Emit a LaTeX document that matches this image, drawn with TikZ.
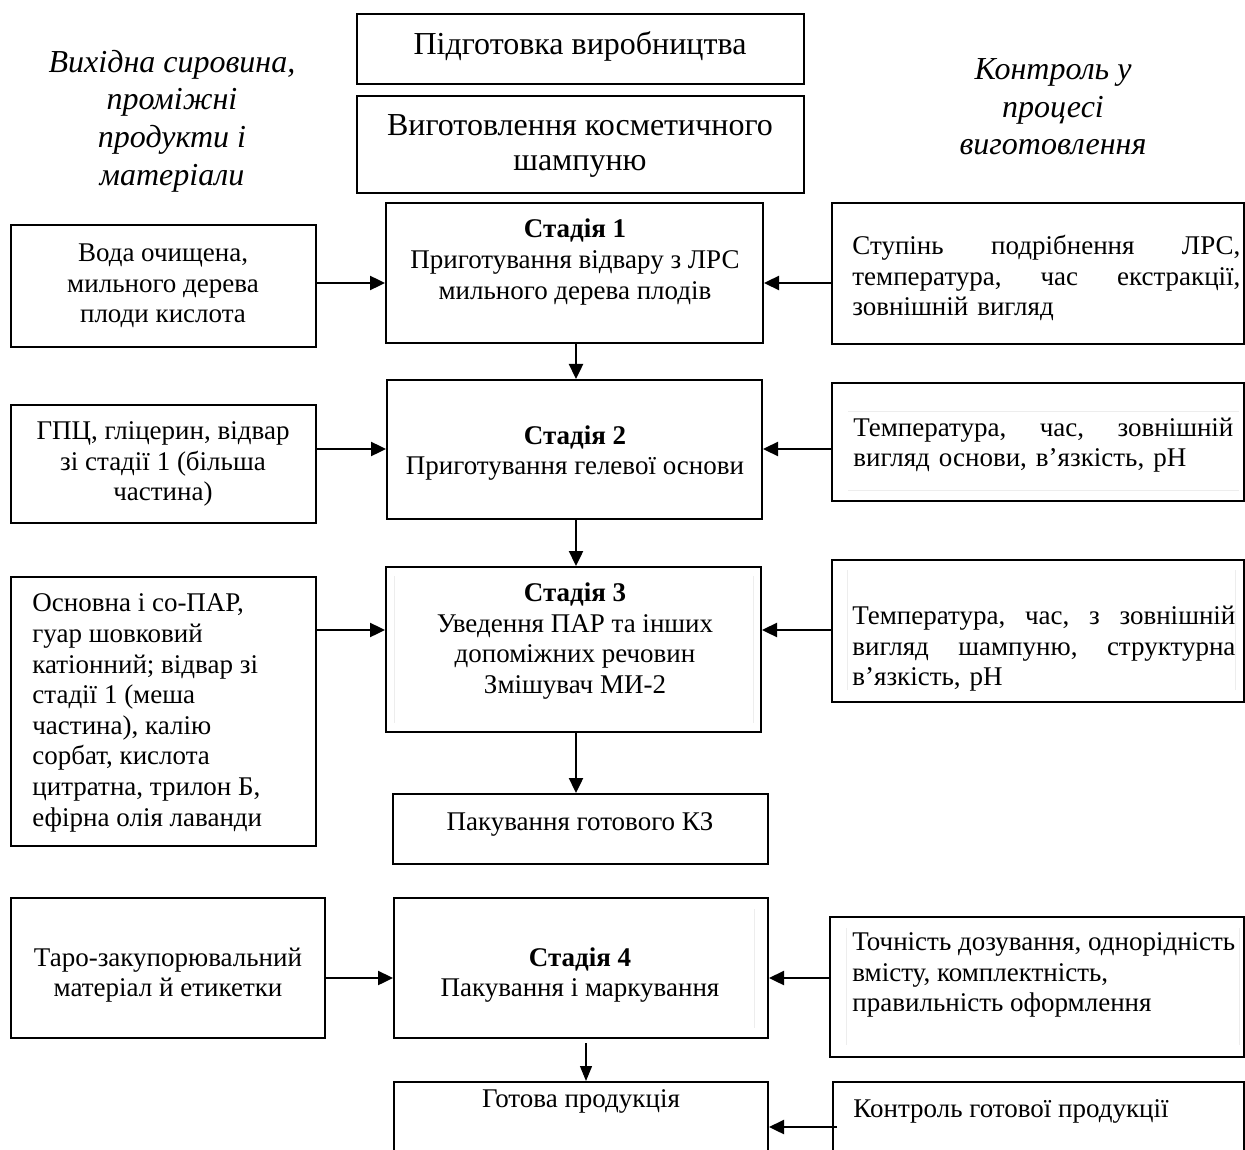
\documentclass[tikz,border=0pt]{standalone}
\usepackage{fontspec}
\setmainfont{Liberation Serif}
\usetikzlibrary{arrows.meta,fit}
\tikzset{
  box/.style={draw, line width=1pt, inner sep=0pt},
  ghost/.style={draw=black!7, line width=0.5pt},
  body/.style={font=\fontsize{13.5}{15.3}\selectfont, inner sep=0pt},
  head/.style={font=\fontsize{16}{17.5}\selectfont, align=center, inner sep=0pt},
  ital/.style={font=\itshape\fontsize{16}{18.8}\selectfont, align=center, inner sep=0pt},
  arr/.style={line width=1.2pt, -{Triangle[length=7.5pt,width=7pt]}},
  thinarr/.style={line width=0.6pt, -{Triangle[length=7.5pt,width=6pt]}}
}
\begin{document}
\begin{tikzpicture}[x=0.5pt,y=-0.5pt]
\useasboundingbox (0,0) rectangle (1245,1149);
\clip (0,0) rectangle (1245,1149);

% column headings
\node[ital] (hl) at (172,121) {Вихідна сировина,\\проміжні\\продукти і\\матеріали};
\node[ital] (hr) at (1053,107) {Контроль у\\процесі\\виготовлення};

% header boxes
\node[box, fit={(357,14)(804,84)}] (h1) {};
\node[head] (h1t) at (580,46) {Підготовка виробництва};
\node[box, fit={(357,96)(804,193)}] (h2) {};
\node[head] (h2t) at (580,146) {Виготовлення косметичного\\шампуню};

% stage boxes
\node[box, fit={(386,203)(763,343)}] (s1) {};
\node[body, align=center] (s1t) at (575,262) {\textbf{Стадія 1}\\Приготування відвару з ЛРС\\мильного дерева плодів};
\node[box, fit={(387,380)(762,519)}] (s2) {};
\node[body, align=center] (s2t) at (575,453) {\textbf{Стадія 2}\\Приготування гелевої основи};
\node[box, fit={(386,567)(761,732)}] (s3) {};
\draw[ghost] (394,576) -- (394,723) (753,576) -- (753,723);
\node[body, align=center] (s3t) at (575,641) {\textbf{Стадія 3}\\Уведення ПАР та інших\\допоміжних речовин\\Змішувач МИ-2};
\node[box, fit={(393,794)(768,864)}] (pk) {};
\node[body] (pkt) at (580,824) {Пакування готового КЗ};
\node[box, fit={(394,898)(768,1038)}] (s4) {};
\draw[ghost] (754,909) -- (754,1028);
\node[body, align=center] (s4t) at (580,975) {\textbf{Стадія 4}\\Пакування і маркування};
\node[box, fit={(394,1082)(768,1175)}] (fin) {};
\node[body] (fint) at (581,1101) {Готова продукція};

% left boxes
\node[box, fit={(11,225)(316,347)}] (lb1) {};
\node[body, align=center] (lb1t) at (163,286) {Вода очищена,\\мильного дерева\\плоди кислота};
\node[box, fit={(11,405)(316,523)}] (lb2) {};
\node[body, align=center] (lb2t) at (163,464) {ГПЦ, гліцерин, відвар\\зі стадії 1 (більша\\частина)};
\node[box, fit={(11,577)(316,846)}] (lb3) {};
\node[body, align=left, anchor=west] (lb3t) at (32,713) {Основна і со-ПАР,\\гуар шовковий\\катіонний; відвар зі\\стадії 1 (меша\\частина), калію\\сорбат, кислота\\цитратна, трилон Б,\\ефірна олія лаванди};
\node[box, fit={(11,898)(325,1038)}] (lb4) {};
\node[body, align=center] (lb4t) at (168,975) {Таро-закупорювальний\\матеріал й етикетки};

% right boxes
\node[box, fit={(832,203)(1244,344)}] (rb1) {};
\node[body, align=left, text width=194pt, anchor=west] (rb1t) at (852,278) {Ступінь\hfill подрібнення\hfill ЛРС,\\температура,\hfill час\hfill екстракції,\\зовнішній вигляд};
\node[box, fit={(832,383)(1244,501)}] (rb2) {};
\draw[ghost] (848,411) -- (1239,411) (848,490) -- (1239,490);
\node[body, align=left, text width=190pt, anchor=west] (rb2t) at (853,445) {Температура,\hfill час,\hfill зовнішній\\вигляд основи, в’язкість, pH};
\node[box, fit={(832,560)(1244,702)}] (rb3) {};
\draw[ghost] (847,570) -- (847,690) (1235,570) -- (1235,690);
\node[body, align=left, text width=191.5pt, anchor=west] (rb3t) at (852,649) {Температура,\hfill час,\hfill з\hfill зовнішній\\вигляд\hfill шампуню,\hfill структурна\\в’язкість, pH};
\node[box, fit={(830,917)(1244,1057)}] (rb4) {};
\draw[ghost] (846,928) -- (846,1045) (1239,928) -- (1239,1045);
\node[body, align=left, anchor=west] (rb4t) at (852,975) {Точність дозування, однорідність\\вмісту, комплектність,\\правильність оформлення};
\node[box, fit={(833,1082)(1244,1175)}] (rb5) {};
\node[body, anchor=west] (rb5t) at (853,1111) {Контроль готової продукції};

% row levels and column
\coordinate (r1) at (0,283);
\coordinate (r2) at (0,449);
\coordinate (r3) at (0,630);
\coordinate (r4) at (0,978);
\coordinate (r5) at (0,1127);
\coordinate (cx) at (576,0);
\coordinate (cx4) at (586,0);
\coordinate (s4o) at (586,1043);

% horizontal connectors
\draw[arr] (lb1.east |- r1) -- (s1.west |- r1);
\draw[arr] (rb1.west |- r1) -- (s1.east |- r1);
\draw[arr] (lb2.east |- r2) -- (s2.west |- r2);
\draw[arr] (rb2.west |- r2) -- (s2.east |- r2);
\draw[arr] (lb3.east |- r3) -- (s3.west |- r3);
\draw[arr] (rb3.west |- r3) -- (s3.east |- r3);
\draw[arr] (lb4.east |- r4) -- (s4.west |- r4);
\draw[arr] (rb4.west |- r4) -- (s4.east |- r4);
\draw[arr] ([xshift=2.5pt]rb5.west |- r5) -- (fin.east |- r5);

% vertical connectors
\draw[arr] (s1.south -| cx) -- (s2.north -| cx);
\draw[arr] (s2.south -| cx) -- (s3.north -| cx);
\draw[arr] (s3.south -| cx) -- (pk.north -| cx);
\draw[thinarr] (s4o) -- (fin.north -| cx4);
\end{tikzpicture}
\end{document}
